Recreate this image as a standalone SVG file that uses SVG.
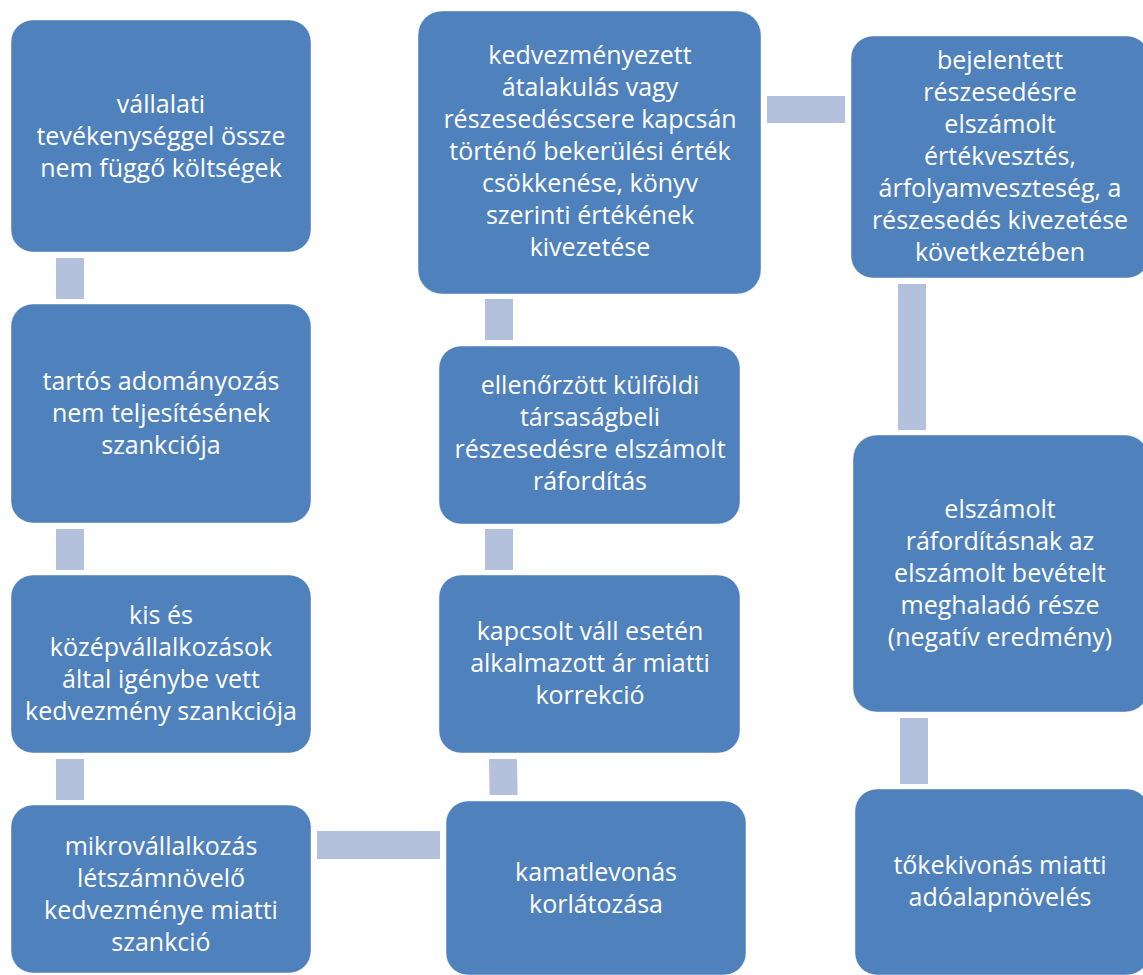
<svg xmlns="http://www.w3.org/2000/svg" width="1143" height="975" viewBox="0 0 1143 975">
  <style>
    .box { fill: #4F81BD; stroke: #ffffff; stroke-opacity: 0.45; stroke-width: 1; }
    .link { fill: #B3C1DD; }
    .lbl { font-family: "Open Sans", "Noto Sans", "Liberation Sans", sans-serif; font-size: 25px; fill: #ffffff; text-anchor: middle; }
  </style>
  <rect width="1143" height="975" fill="#ffffff"/>

  <!-- connectors between boxes -->
  <g id="connectors">
    <rect class="link" x="56" y="258" width="28" height="41"/>
    <rect class="link" x="56" y="529" width="28" height="41"/>
    <rect class="link" x="56" y="759" width="28" height="41"/>
    <rect class="link" x="317" y="831" width="123" height="28"/>
    <polygon class="link" points="489,759 517,759 517.6,795 489.6,795"/>
    <rect class="link" x="485" y="529" width="28" height="41"/>
    <rect class="link" x="485" y="299" width="28" height="41"/>
    <rect class="link" x="767" y="96" width="78" height="27"/>
    <rect class="link" x="898" y="284" width="28" height="146"/>
    <rect class="link" x="900" y="718" width="28" height="66"/>
  </g>

  <!-- left column -->
  <g id="node-vallalati">
    <rect class="box" x="11" y="20" width="300" height="232" rx="22"/>
    <text class="lbl" x="161" y="113">vállalati</text>
    <text class="lbl" x="161" y="145">tevékenységgel össze</text>
    <text class="lbl" x="161" y="177">nem függő költségek</text>
  </g>
  <g id="node-tartos">
    <rect class="box" x="11" y="304" width="300" height="219" rx="22"/>
    <text class="lbl" x="161" y="390">tartós adományozás</text>
    <text class="lbl" x="161" y="422">nem teljesítésének</text>
    <text class="lbl" x="161" y="454">szankciója</text>
  </g>
  <g id="node-kkv">
    <rect class="box" x="11" y="575" width="300" height="178" rx="22"/>
    <text class="lbl" x="161" y="624">kis és</text>
    <text class="lbl" x="161" y="656">középvállalkozások</text>
    <text class="lbl" x="161" y="688">által igénybe vett</text>
    <text class="lbl" x="161" y="720">kedvezmény szankciója</text>
  </g>
  <g id="node-mikro">
    <rect class="box" x="11" y="805" width="300" height="168" rx="22"/>
    <text class="lbl" x="161" y="855">mikrovállalkozás</text>
    <text class="lbl" x="161" y="887">létszámnövelő</text>
    <text class="lbl" x="161" y="919">kedvezménye miatti</text>
    <text class="lbl" x="161" y="951">szankció</text>
  </g>

  <!-- middle column -->
  <g id="node-atalakulas">
    <rect class="box" x="418" y="11" width="343" height="283" rx="24"/>
    <text class="lbl" x="590" y="64">kedvezményezett</text>
    <text class="lbl" x="590" y="96">átalakulás vagy</text>
    <text class="lbl" x="590" y="128">részesedéscsere kapcsán</text>
    <text class="lbl" x="590" y="160">történő bekerülési érték</text>
    <text class="lbl" x="590" y="192">csökkenése, könyv</text>
    <text class="lbl" x="590" y="224">szerinti értékének</text>
    <text class="lbl" x="590" y="256">kivezetése</text>
  </g>
  <g id="node-ellenorzott">
    <rect class="box" x="439" y="346" width="301" height="178" rx="22"/>
    <text class="lbl" x="590" y="394">ellenőrzött külföldi</text>
    <text class="lbl" x="590" y="426">társaságbeli</text>
    <text class="lbl" x="590" y="458">részesedésre elszámolt</text>
    <text class="lbl" x="590" y="490">ráfordítás</text>
  </g>
  <g id="node-kapcsolt">
    <rect class="box" x="439" y="575" width="301" height="178" rx="22"/>
    <text class="lbl" x="590" y="640">kapcsolt váll esetén</text>
    <text class="lbl" x="590" y="672">alkalmazott ár miatti</text>
    <text class="lbl" x="590" y="704">korrekció</text>
  </g>
  <g id="node-kamat">
    <rect class="box" x="446" y="801" width="300" height="174" rx="22"/>
    <text class="lbl" x="596" y="881">kamatlevonás</text>
    <text class="lbl" x="596" y="913">korlátozása</text>
  </g>

  <!-- right column -->
  <g id="node-bejelentett">
    <rect class="box" x="851" y="36" width="298" height="242" rx="22"/>
    <text class="lbl" x="1000" y="69">bejelentett</text>
    <text class="lbl" x="1000" y="101">részesedésre</text>
    <text class="lbl" x="1000" y="133">elszámolt</text>
    <text class="lbl" x="1000" y="165">értékvesztés,</text>
    <text class="lbl" x="1000" y="197">árfolyamveszteség, a</text>
    <text class="lbl" x="1000" y="229">részesedés kivezetése</text>
    <text class="lbl" x="1000" y="261">következtében</text>
  </g>
  <g id="node-elszamolt">
    <rect class="box" x="853" y="435" width="296" height="277" rx="24"/>
    <text class="lbl" x="1000" y="518">elszámolt</text>
    <text class="lbl" x="1000" y="550">ráfordításnak az</text>
    <text class="lbl" x="1000" y="582">elszámolt bevételt</text>
    <text class="lbl" x="1000" y="614">meghaladó része</text>
    <text class="lbl" x="1000" y="646">(negatív eredmény)</text>
  </g>
  <g id="node-tokekivonas">
    <rect class="box" x="855" y="789" width="294" height="186" rx="22"/>
    <text class="lbl" x="1000" y="874">tőkekivonás miatti</text>
    <text class="lbl" x="1000" y="906">adóalapnövelés</text>
  </g>
</svg>
